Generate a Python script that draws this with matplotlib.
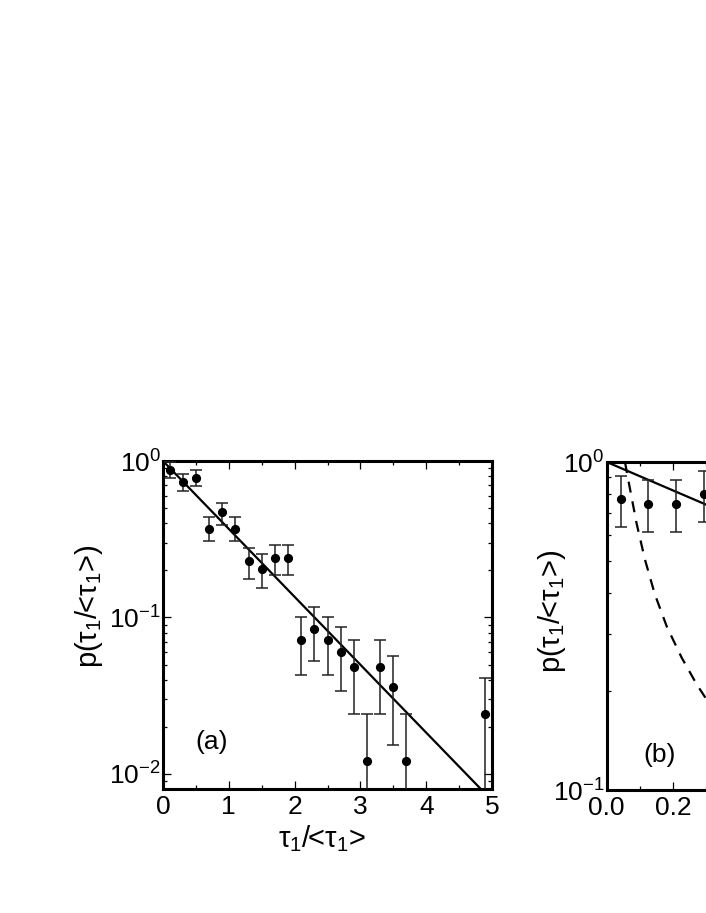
import matplotlib
matplotlib.use("Agg")
import matplotlib.pyplot as plt
import numpy as np

plt.rcParams['font.family'] = ['Liberation Sans', 'DejaVu Sans']
plt.rcParams['mathtext.fontset'] = 'custom'
plt.rcParams['mathtext.rm'] = 'Liberation Sans'
plt.rcParams['mathtext.it'] = 'Liberation Sans'
plt.rcParams['mathtext.default'] = 'regular'

# ---- panel (a) data ----
a_x = [0.1, 0.3, 0.5, 0.7, 0.9, 1.1, 1.3, 1.5, 1.7, 1.9, 2.1, 2.3, 2.5, 2.7, 2.9, 3.1, 3.3, 3.5, 3.7, 4.9]
a_y = [0.88, 0.73, 0.78, 0.37, 0.47, 0.37, 0.228, 0.205, 0.24, 0.24, 0.072, 0.084, 0.072, 0.060, 0.048, 0.012, 0.048, 0.036, 0.012, 0.024]
a_hi = [0.98, 0.82, 0.87, 0.44, 0.54, 0.44, 0.279, 0.253, 0.292, 0.292, 0.100, 0.116, 0.100, 0.087, 0.072, 0.024, 0.072, 0.057, 0.024, 0.041]
a_lo = [0.78, 0.64, 0.69, 0.31, 0.39, 0.31, 0.176, 0.155, 0.186, 0.186, 0.043, 0.053, 0.043, 0.034, 0.024, 0.0001, 0.024, 0.0154, 0.0001, 0.0001]
a_fit_x = [0.0, 4.83]
a_fit_y = [1.0, 0.008]

# ---- panel (b) data ----
b_x = [0.0417, 0.125, 0.208, 0.292]
b_y = [0.771, 0.745, 0.745, 0.797]
b_hi = [0.908, 0.881, 0.881, 0.94]
b_lo = [0.635, 0.610, 0.610, 0.655]
b_fit_x = [0.0, 1.0]
b_fit_y = [1.0, 0.368]
b_dash_x = [0.055, 0.068, 0.090, 0.115, 0.145, 0.181, 0.226, 0.271, 0.299, 0.32]
b_dash_y = [1.0, 0.85, 0.65, 0.505, 0.395, 0.315, 0.253, 0.210, 0.190, 0.178]

W, H = 706, 913
fig = plt.figure(figsize=(W / 100, H / 100), dpi=100)

TICK_FS = 19
LAB_FS = 21

def style(ax):
    for s in ax.spines.values():
        s.set_linewidth(2.2)
    ax.tick_params(which='both', direction='in', top=True, right=True, labelsize=TICK_FS, width=0.9)
    ax.tick_params(which='major', length=5.5, pad=4)
    ax.tick_params(which='minor', length=3)
    ax.tick_params(axis='y', which='major', pad=1.5)

ylab = 'p(τ$_1$/<τ$_1$>)'
xlab = 'τ$_1$/<τ$_1$>'

# panel a
axa = fig.add_axes([163 / W, (H - 789) / H, 329 / W, 328 / H])
axa.set_yscale('log')
ya = np.array(a_y); errs_a = [ya - np.array(a_lo), np.array(a_hi) - ya]
axa.errorbar(a_x, a_y, yerr=errs_a, fmt='o', color='black', ecolor='#222222', ms=5.6, elinewidth=1.1, capsize=4, capthick=1.1, zorder=3)
axa.plot(a_fit_x, a_fit_y, color='black', lw=1.6)
axa.set_xlim(0, 5)
axa.set_ylim(0.008, 1.0)
axa.set_xticks([0, 1, 2, 3, 4, 5])
axa.set_xticks(np.arange(0.5, 5, 1.0), minor=True)
axa.set_yticks([0.01, 0.1, 1.0])
axa.set_yticklabels([r'$10^{-2}$', r'$10^{-1}$', r'$10^{0}$'])
style(axa)
axa.set_ylabel(ylab, fontsize=LAB_FS)
axa.yaxis.set_label_coords(-0.176, 0.558)
axa.set_xlabel(xlab, fontsize=LAB_FS)
axa.xaxis.set_label_coords(0.483, -0.103)
axa.text(0.149, 0.143, '(a)', transform=axa.transAxes, fontsize=TICK_FS, ha='center', va='center')

# panel b
axb = fig.add_axes([606.7 / W, (H - 790) / H, 332 / W, 328 / H])
axb.set_yscale('log')
yb = np.array(b_y); errs_b = [yb - np.array(b_lo), np.array(b_hi) - yb]
axb.errorbar(b_x, b_y, yerr=errs_b, fmt='o', color='black', ecolor='#222222', ms=5.6, elinewidth=1.1, capsize=4, capthick=1.1, zorder=3)
axb.plot(b_fit_x, b_fit_y, color='black', lw=1.6)
axb.plot(b_dash_x, b_dash_y, color='black', lw=1.6, ls=(0, (5, 4)))
axb.set_xlim(0, 1.0)
axb.set_ylim(0.1, 1.0)
axb.set_xticks([0.0, 0.2, 0.4, 0.6, 0.8, 1.0])
axb.set_xticklabels(['0.0', '0.2', '0.4', '0.6', '0.8', '1.0'])
axb.set_xticks(np.arange(0.1, 1.0, 0.2), minor=True)
axb.set_yticks([0.1, 1.0])
axb.set_yticklabels([r'$10^{-1}$', r'$10^{0}$'])
axb.yaxis.set_minor_formatter(matplotlib.ticker.NullFormatter())
style(axb)
axb.set_ylabel(ylab, fontsize=LAB_FS)
axb.yaxis.set_label_coords(-0.117, 0.546)
axb.text(0.16, 0.107, '(b)', transform=axb.transAxes, fontsize=TICK_FS, ha='center', va='center')

fig.savefig('out.png', dpi=100)
